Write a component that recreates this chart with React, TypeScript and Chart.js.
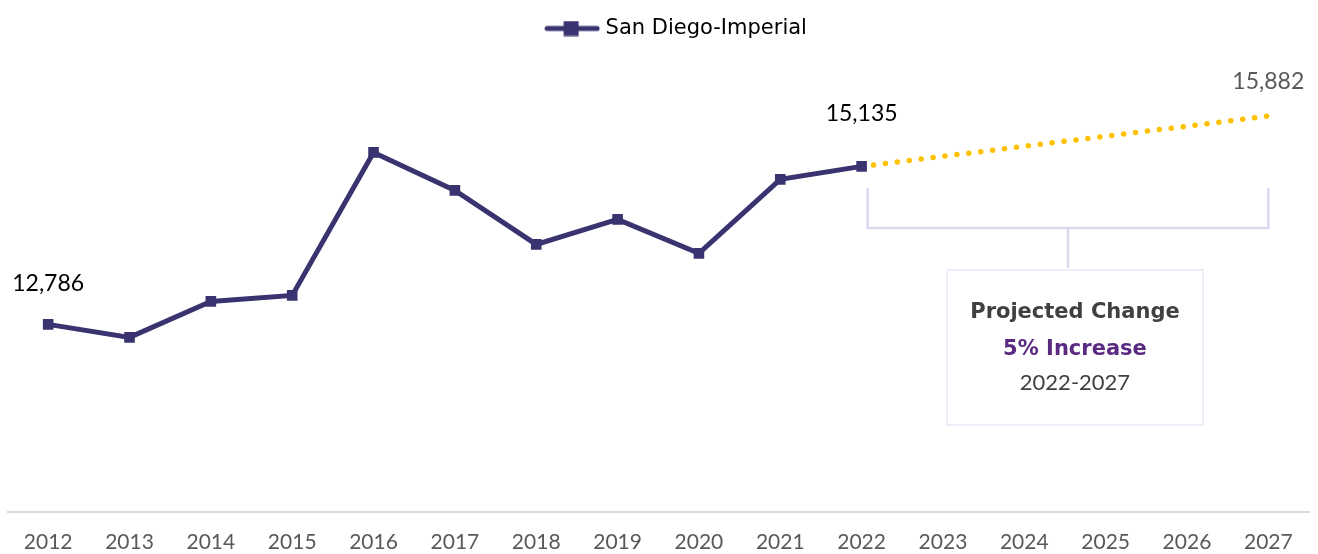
import React, { useEffect, useRef } from "react";
import { Chart, registerables } from "chart.js";

Chart.register(...registerables);

const years = ["2012","2013","2014","2015","2016","2017","2018","2019","2020","2021","2022","2023","2024","2025","2026","2027"];
const historical = [12786, 12593, 13128, 13217, 15343, 14778, 13975, 14347, 13842, 14942, 15135, null, null, null, null, null];
const projected = [null, null, null, null, null, null, null, null, null, null, 15135, null, null, null, null, 15882];
const seriesName = "San Diego-Imperial";
const labelled = [
  { index: 0, value: 12786, text: "12,786" },
  { index: 10, value: 15135, text: "15,135" },
  { index: 15, value: 15882, text: "15,882" },
];
const boxLines = ["Projected Change", "5% Increase", "2022-2027"];
const yMin = 10000;
const yMax = 16880;

const NUM_FONT = "Lato, 'Open Sans', sans-serif";
const TXT_FONT = "'DejaVu Sans', sans-serif";
const LINE = "#39336F";
const GOLD = "#FFC000";

function makeLegendIcon() {
  const c = document.createElement("canvas");
  c.width = 100;
  c.height = 16;
  const ctx = c.getContext("2d")!;
  ctx.strokeStyle = LINE;
  ctx.lineWidth = 5;
  ctx.lineCap = "round";
  ctx.beginPath();
  ctx.moveTo(45, 8);
  ctx.lineTo(95, 8);
  ctx.stroke();
  ctx.fillStyle = LINE;
  ctx.fillRect(69 - 7.5, 0.5, 15, 15);
  return c;
}

const annotationPlugin = {
  id: "annot",
  afterDatasetsDraw(chart: any) {
    const { ctx, chartArea, scales } = chart;
    const x = scales.x;
    const y = scales.y;
    const top = chartArea.top;
    ctx.save();
    const xl = x.getPixelForValue(10) + 6;
    const xr = x.getPixelForValue(15);
    const xm = (xl + xr) / 2;
    ctx.strokeStyle = "#DCD9EF";
    ctx.lineWidth = 2.5;
    ctx.beginPath();
    ctx.moveTo(xl, top + 139);
    ctx.lineTo(xl, top + 179);
    ctx.lineTo(xr, top + 179);
    ctx.lineTo(xr, top + 139);
    ctx.moveTo(xm, top + 179);
    ctx.lineTo(xm, top + 219);
    ctx.stroke();
    const bl = xm - 121;
    const bw = 256;
    ctx.fillStyle = "#FFFFFF";
    ctx.fillRect(bl, top + 221, bw, 155);
    ctx.strokeStyle = "#ECE8F6";
    ctx.lineWidth = 1.5;
    ctx.strokeRect(bl, top + 221, bw, 155);
    const bc = bl + bw / 2;
    ctx.textAlign = "center";
    ctx.textBaseline = "middle";
    ctx.fillStyle = "#404040";
    ctx.font = `bold 21px ${TXT_FONT}`;
    ctx.fillText(boxLines[0], bc, top + 264);
    ctx.fillStyle = "#5A2A82";
    ctx.fillText(boxLines[1], bc, top + 301);
    ctx.fillStyle = "#404040";
    ctx.font = `22px ${NUM_FONT}`;
    ctx.fillText(boxLines[2], bc, top + 334);
    const offsets = [41, 53, 35];
    const colors = ["#000000", "#000000", "#595959"];
    ctx.font = `23px ${NUM_FONT}`;
    labelled.forEach((l, i) => {
      ctx.fillStyle = colors[i];
      ctx.fillText(l.text, x.getPixelForValue(l.index), y.getPixelForValue(l.value) - offsets[i]);
    });
    ctx.restore();
  },
};

export default function App() {
  const ref = useRef<HTMLCanvasElement | null>(null);
  useEffect(() => {
    if (!ref.current) return;
    const icon = makeLegendIcon();
    const chart = new Chart(ref.current, {
      type: "line",
      data: {
        labels: years,
        datasets: [
          {
            label: seriesName,
            data: historical,
            borderColor: LINE,
            backgroundColor: LINE,
            borderWidth: 5,
            pointStyle: "rect",
            pointRadius: 7.5,
            pointBackgroundColor: LINE,
            pointBorderWidth: 0,
            tension: 0,
          },
          {
            label: "Projection",
            data: projected,
            borderColor: GOLD,
            borderWidth: 5.5,
            borderDash: [0, 12],
            borderCapStyle: "round",
            pointRadius: 0,
            spanGaps: true,
            order: 1,
          },
        ],
      },
      options: {
        animation: false,
        responsive: true,
        maintainAspectRatio: false,
        layout: { padding: { left: 7, right: 9, top: 16, bottom: -19 } },
        plugins: {
          legend: {
            display: true,
            position: "top",
            labels: {
              usePointStyle: true,
              pointStyleWidth: 86,
              color: "#000000",
              font: { family: TXT_FONT, size: 21 },
              padding: 2,
              generateLabels: () => [
                {
                  text: seriesName,
                  pointStyle: icon,
                  fillStyle: LINE,
                  strokeStyle: LINE,
                  lineWidth: 0,
                  hidden: false,
                  datasetIndex: 0,
                  fontColor: "#000000",
                },
              ],
            },
          },
          tooltip: { enabled: false },
        },
        scales: {
          x: {
            offset: true,
            grid: { display: false, drawTicks: false },
            border: { display: true, color: "#D9D9D9", width: 2 },
            ticks: { color: "#595959", font: { family: NUM_FONT, size: 21 }, padding: 18, maxRotation: 0, autoSkip: false },
          },
          y: {
            display: false,
            min: yMin,
            max: yMax,
          },
        },
      },
      plugins: [annotationPlugin],
    });
    return () => chart.destroy();
  }, []);
  return (
    <div style={{ position: "fixed", left: 0, top: 0, width: 1318, height: 554, background: "#fff" }}>
      <canvas ref={ref} />
    </div>
  );
}
